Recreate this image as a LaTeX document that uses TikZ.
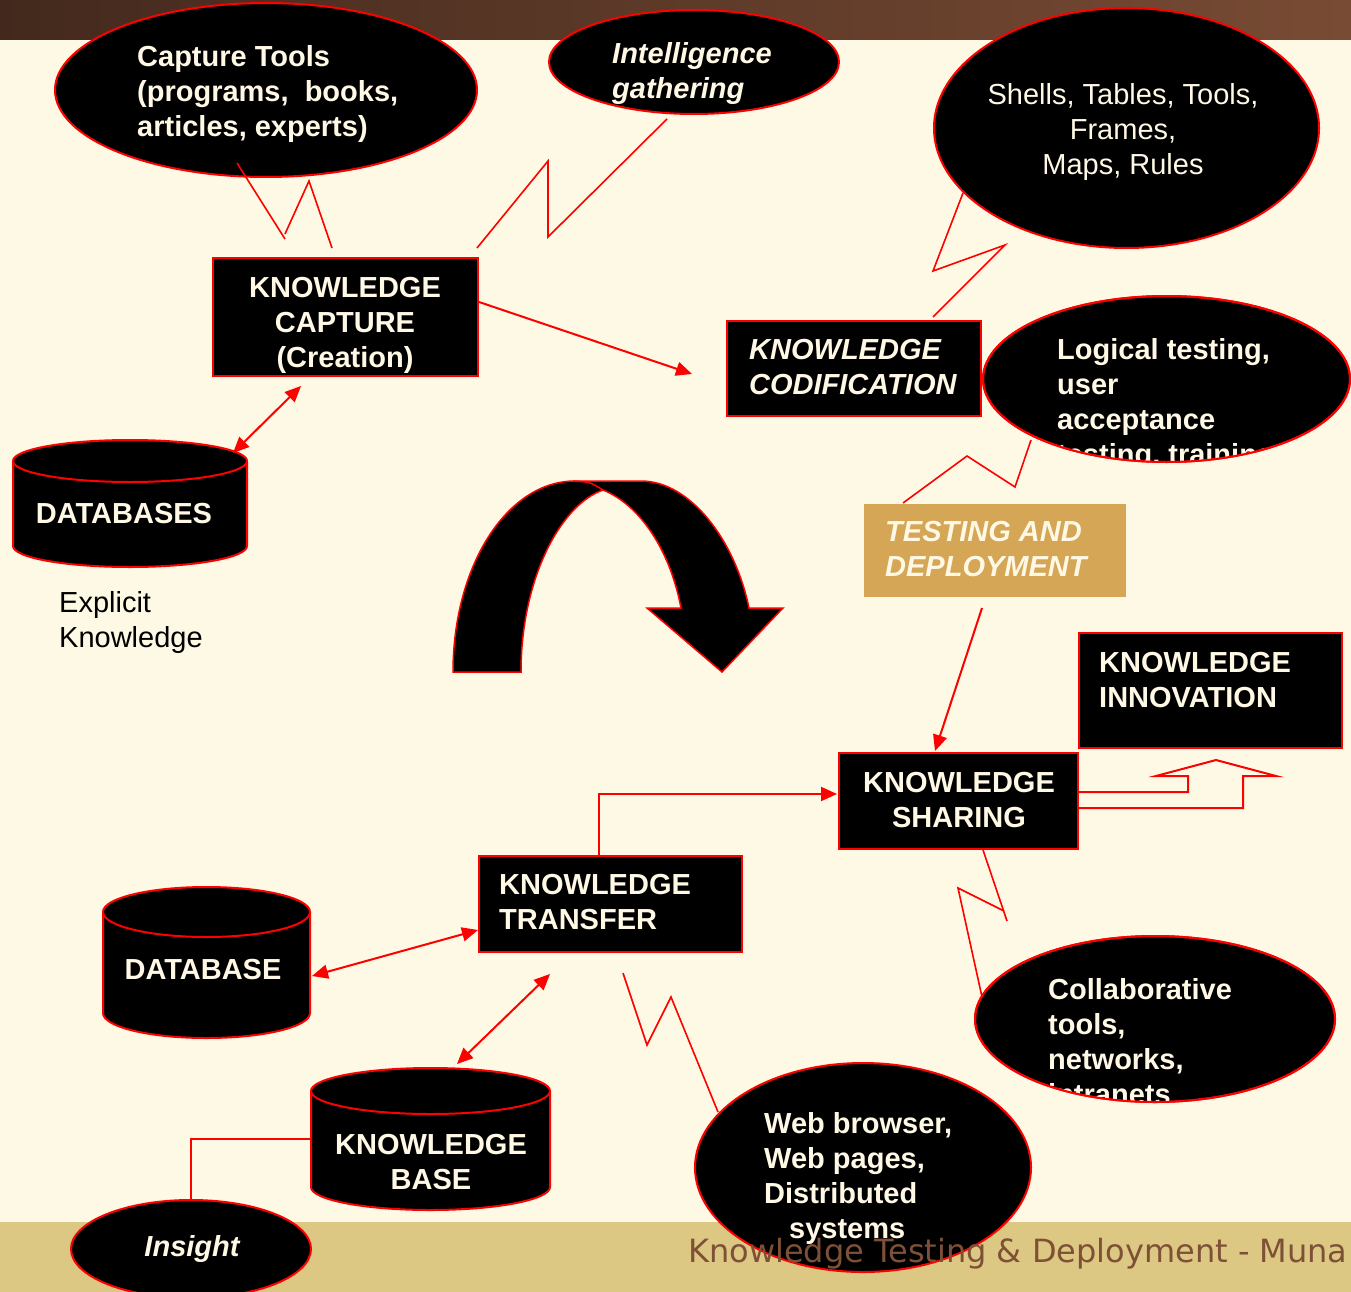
\documentclass[tikz,border=0pt]{standalone}
\usepackage{fontspec}
\setmainfont{Liberation Sans}
\newfontfamily\footfont{DejaVu Sans}
\usetikzlibrary{arrows.meta,shapes.geometric}
\definecolor{bg}{HTML}{FEF9E4}
\definecolor{band}{HTML}{DCC882}
\definecolor{barL}{HTML}{43291D}
\definecolor{barR}{HTML}{784B34}
\definecolor{tanbox}{HTML}{D4A656}
\definecolor{cream}{HTML}{FFF8E4}
\definecolor{foot}{HTML}{7D5037}
\definecolor{kred}{HTML}{FF0000}
\newcommand{\kcyl}[5]{%
  \pgfmathsetmacro\cxx{(#1+#2)/2}\pgfmathsetmacro\rxx{(#2-#1)/2}%
  \filldraw[blk] (#1,#3+#5) -- (#1,#4-#5)
    .. controls (#1,#4-#5+0.5523*#5) and (\cxx-0.5523*\rxx,#4) .. (\cxx,#4)
    .. controls (\cxx+0.5523*\rxx,#4) and (#2,#4-#5+0.5523*#5) .. (#2,#4-#5)
    -- (#2,#3+#5)
    .. controls (#2,#3+#5-0.5523*#5) and (\cxx+0.5523*\rxx,#3) .. (\cxx,#3)
    .. controls (\cxx-0.5523*\rxx,#3) and (#1,#3+#5-0.5523*#5) .. (#1,#3+#5) -- cycle;
  \draw[conn] (#1,#3+#5)
    .. controls (#1,#3+#5+0.5523*#5) and (\cxx-0.5523*\rxx,#3+2*#5) .. (\cxx,#3+2*#5)
    .. controls (\cxx+0.5523*\rxx,#3+2*#5) and (#2,#3+#5+0.5523*#5) .. (#2,#3+#5);}
\begin{document}
\begin{tikzpicture}[x=1pt,y=-1pt,
  blk/.style={draw=kred, fill=black, line width=2pt},
  boxst/.style={rectangle, blk, inner sep=0pt},
  ell/.style={ellipse, blk, inner sep=0pt},
  conn/.style={draw=kred, line width=2pt},
  zig/.style={draw=kred, line width=1.6pt},
  arr/.style={conn, -{Triangle[length=16pt,width=14pt]}},
  darr/.style={conn, {Triangle[length=16pt,width=14pt]}-{Triangle[length=16pt,width=14pt]}},
  txt/.style={inner sep=0pt, text=cream, align=left,
     font=\fontsize{29}{35}\selectfont\bfseries,
     execute at begin node={\strut}, execute at end node={\strut}},
  itxt/.style={txt, font=\fontsize{29}{35}\selectfont\bfseries\itshape},
  rtxt/.style={txt, font=\fontsize{29}{35}\selectfont}]
\useasboundingbox (0,0) rectangle (1351,1292);
\clip (0,0) rectangle (1351,1292);
% background
\fill[bg] (0,0) rectangle (1351,1292);
\shade[left color=barL, right color=barR] (0,0) rectangle (1351,40);
\fill[band] (0,1222) rectangle (1351,1292);

% ellipses
\node[ell, minimum width=422pt, minimum height=174pt] (e1) at (266,90) {};
\node[txt, anchor=west] (t1) at (137,96.4) {Capture Tools\\(programs,\ \ books,\\articles, experts)};
\node[ell, minimum width=290pt, minimum height=104pt] (e2) at (694,62) {};
\node[itxt, anchor=west] (t2) at (612,76) {Intelligence\\gathering};
\node[ell, minimum width=385pt, minimum height=240pt] (e3) at (1126.5,128) {};
\node[rtxt, align=center] (t3) at (1123,134.4) {Shells, Tables, Tools,\\Frames,\\Maps, Rules};

\node[ell, minimum width=367pt, minimum height=166pt] (e4) at (1166.5,379) {};
\begin{scope}
\clip (e4.center) ellipse [x radius=183.5pt, y radius=83pt];
\node[txt, anchor=west] (t4) at (1057,407) {Logical testing,\\user\\acceptance\\testing, training};
\end{scope}
\draw[conn] (e4.center) ellipse [x radius=183.5pt, y radius=83pt];

\node[ell, minimum width=360pt, minimum height=166pt] (e5) at (1155,1019) {};
\begin{scope}
\clip (e5.center) ellipse [x radius=180pt, y radius=83pt];
\node[txt, anchor=west] (t5) at (1048,1047) {Collaborative\\tools,\\networks,\\intranets};
\end{scope}
\draw[conn] (e5.center) ellipse [x radius=180pt, y radius=83pt];

\node[ell, minimum width=336pt, minimum height=209pt] (e6) at (863,1167.5) {};
\node[txt, anchor=west] (t6) at (764,1181) {Web browser,\\Web pages,\\Distributed\\\hspace*{25pt}systems};

\node[ell, minimum width=240pt, minimum height=98pt] (e7) at (191,1249) {};
\node[itxt, align=center] (t7) at (192,1249) {Insight};

% boxes
\node[boxst, minimum width=265pt, minimum height=118pt] (cap) at (345.5,317) {};
\node[txt, align=center] (tcap) at (345,327.4) {KNOWLEDGE\\CAPTURE\\(Creation)};
\node[boxst, minimum width=254pt, minimum height=95pt] (cod) at (854,368.5) {};
\node[itxt, anchor=west] (tcod) at (749,372) {KNOWLEDGE\\CODIFICATION};
\node[rectangle, fill=tanbox, inner sep=0pt, minimum width=262pt, minimum height=93pt] (tst) at (995,550.5) {};
\node[itxt, anchor=west] (ttst) at (885,554) {TESTING AND\\DEPLOYMENT};
\node[boxst, minimum width=263pt, minimum height=115pt] (inn) at (1210.5,690.5) {};
\node[txt, anchor=west] (tinn) at (1099,685) {KNOWLEDGE\\INNOVATION};
\node[boxst, minimum width=239pt, minimum height=96pt] (shr) at (958.5,801) {};
\node[txt, align=center] (tshr) at (959,805) {KNOWLEDGE\\SHARING};
\node[boxst, minimum width=263pt, minimum height=96pt] (trf) at (610.5,904) {};
\node[txt, anchor=west] (ttrf) at (499,907) {KNOWLEDGE\\TRANSFER};

% cylinders
\kcyl{13}{247}{440}{567}{21}
\node[txt, align=center] (db1) at (124,516.4) {DATABASES};
\kcyl{103}{310}{887}{1038}{25}
\node[txt, align=center] (db2) at (203,972.4) {DATABASE};
\kcyl{311}{550}{1068}{1210}{23}
\node[txt, align=center] (kb) at (431,1167) {KNOWLEDGE\\BASE};

\node[rtxt, anchor=west, text=black] (expl) at (59,625) {Explicit\\Knowledge};

% curved arrow
\filldraw[blk, line width=1.5pt] (453,672) .. controls (453,566) and (507,481) .. (575,481)
  -- (641,481) .. controls (690,481) and (735,540) .. (749,608)
  -- (783,608) -- (722,672) -- (647,608) -- (681,608)
  .. controls (670,550) and (640,505) .. (603,490)
  .. controls (560,505) and (521,580) .. (521,672) -- cycle;
\draw[draw=kred, line width=1.5pt] (573,481) .. controls (590,482) .. (603,490);

% hollow arrow sharing -> innovation
\draw[draw=kred, line width=2pt, line join=miter] (shr.east |- 0,792) -- (1188,792) -- (1188,776) -- (1156,776) -- (1216,760) -- (1276,776) -- (1243,776) -- (1243,808) -- (shr.east |- 0,808);

% coordinates for connectors
\coordinate (a1) at (479,302); \coordinate (a2) at (692,374);
\coordinate (b1) at (301,386); \coordinate (b2) at (233,453);
\coordinate (c1) at (982,608); \coordinate (c2) at (935,751);
\coordinate (d1) at (599,856); \coordinate (d2) at (599,794); \coordinate (d3) at (837,794);
\coordinate (f1) at (312,976); \coordinate (f2) at (478,930);
\coordinate (g1) at (550,974); \coordinate (g2) at (457,1064);
\coordinate (h1) at (191,1201); \coordinate (h2) at (191,1139); \coordinate (h3) at (311,1139);

\draw[arr] (a1) -- (a2);
\draw[darr] (b1) -- (b2);
\draw[arr] (c1) -- (c2);
\draw[arr] (d1) -- (d2) -- (d3);
\draw[darr] (f1) -- (f2);
\draw[darr] (g1) -- (g2);
\draw[conn, line width=1.6pt] (h1) -- (h2) -- (h3);

% zigzags
\draw[zig] (237,163) -- (285,239);
\draw[zig] (285,234) -- (309,181) -- (332,248);
\draw[zig] (477,248) -- (548,161) -- (548,237) -- (667,119);
\draw[zig] (963,193) -- (933,271) -- (1005,245) -- (933,317);
\draw[zig] (1031,440) -- (1015,487) -- (967,456) -- (903,503);
\draw[zig] (983,850) -- (1007,921);
\draw[zig] (1004,911) -- (958,888) -- (982,997);
\draw[zig] (623,973) -- (647,1045) -- (671,997) -- (718,1112);

% footer
\node[anchor=base west, inner sep=0pt, text=foot, font=\footfont\fontsize{32}{38}\selectfont] (foot) at (688,1262) {Knowledge Testing \& Deployment - Muna};
\end{tikzpicture}
\end{document}
